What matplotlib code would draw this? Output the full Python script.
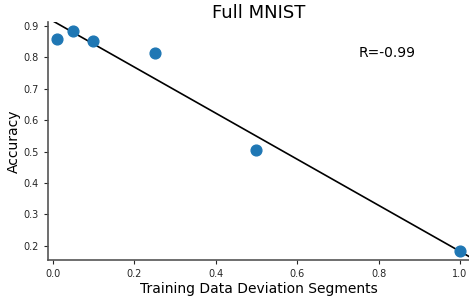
import matplotlib
matplotlib.use('Agg')
import matplotlib.pyplot as plt
import numpy as np

# データ
segments = [0.01, 0.05, 0.1, 0.25, 0.5, 1.0]
accuracy = [0.858, 0.883, 0.851, 0.815, 0.505, 0.183]
r_label = 'R=-0.99'

fig = plt.figure(figsize=(4.69, 2.96), dpi=100)
ax = fig.add_axes([0.102, 0.122, 0.898, 0.804])

ax.scatter(segments, accuracy, s=60, color='#1f77b4', zorder=3)

# 回帰直線
slope, intercept = np.polyfit(segments, accuracy, 1)
xs = np.array([-0.05, 1.05])
ax.plot(xs, slope * xs + intercept, color='black', linewidth=1.2)

ax.set_xlim(-0.012, 1.022)
ax.set_ylim(0.155, 0.913)
ax.set_yticks([0.2, 0.3, 0.4, 0.5, 0.6, 0.7, 0.8, 0.9])
ax.tick_params(labelsize=7, colors='#262626', length=3)

for s in ['top', 'right']:
    ax.spines[s].set_visible(False)
for s in ['left', 'bottom']:
    ax.spines[s].set_color('#555555')
    ax.spines[s].set_linewidth(1.2)

ax.set_title('Full MNIST', fontsize=13, pad=3)
ax.set_xlabel('Training Data Deviation Segments', fontsize=10, labelpad=2)
ax.set_ylabel('Accuracy', fontsize=10, labelpad=2)
ax.text(0.75, 0.815, r_label, fontsize=10, ha='left', va='center')

fig.savefig('out.png', dpi=100)
